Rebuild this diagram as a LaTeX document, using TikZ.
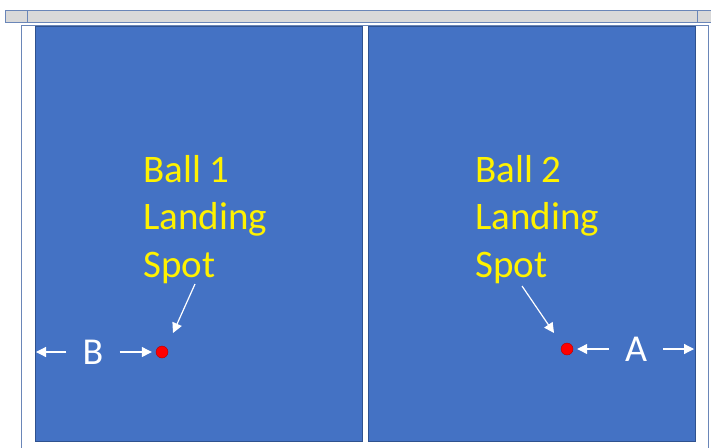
\documentclass[tikz,border=0pt]{standalone}
\usepackage{fontspec}
\setmainfont{Carlito}
\usetikzlibrary{arrows.meta}
\definecolor{panelblue}{HTML}{4472C4}
\definecolor{paneledge}{HTML}{2F528F}
\definecolor{bargray}{HTML}{D9D9D9}
\definecolor{baredge}{HTML}{6A86B8}

\begin{document}
\begin{tikzpicture}[x=1pt, y=-1pt,
        court/.style={draw=paneledge, fill=panelblue, line width=0.8pt},
        ball/.style={circle, fill=red, draw=red!70!black, line width=0.4pt,
        minimum size=12pt, inner sep=0pt},
        spotlabel/.style={anchor=base west, align=left, text=yellow,
        font=\fontsize{39}{47.5}\selectfont, inner sep=0pt},
        distlabel/.style={text=white, font=\fontsize{38}{44}\selectfont,
        inner ysep=0pt, inner xsep=16pt},
        pointer/.style={-{Triangle[width=10pt,length=10pt]}, white, line width=1.2pt},
    ]
    \useasboundingbox (0,0) rectangle (711,447);

    %% Top rail
    \draw[draw=baredge, fill=bargray, line width=0.8pt] (5,10) rectangle (714,22);
    \draw[baredge, line width=0.8pt] (27,10) -- (27,22) (697,10) -- (697,22);

    %% Outer frame
    \draw[baredge, line width=0.8pt] (21,449) -- (21,25) -- (708,25) -- (708,449);

    %% Courts
    \draw[court] (35,26) rectangle (362,441);
    \draw[court] (368,26) rectangle (695,441);

    %% Ball 1 (base anchor sits on the last line)
    \node[spotlabel] (spot1) at (143,277) {Ball 1\\Landing\\Spot};
    \node[ball] (ball1) at (162,352) {};
    \coordinate (from1) at (195,284);
    \coordinate (tip1) at (173,333);
    \draw[pointer] (from1) -- (tip1);

    %% Ball 2
    \node[spotlabel] (spot2) at (475,277) {Ball 2\\Landing\\Spot};
    \node[ball] (ball2) at (567,349) {};
    \coordinate (from2) at (522,286);
    \coordinate (tip2) at (554,333);
    \draw[pointer] (from2) -- (tip2);

    %% Distance B
    \node[distlabel] (distB) at (93,352) {B};
    \coordinate (edgeL) at (36,352);
    \draw[pointer] (distB.west) -- (edgeL);
    \draw[pointer, shorten >=4pt] (distB.east) -- (distB.east -| ball1.west);

    %% Distance A
    \node[distlabel] (distA) at (636,349) {A};
    \coordinate (edgeR) at (694,349);
    \draw[pointer, shorten >=4pt] (distA.west) -- (distA.west -| ball2.east);
    \draw[pointer] (distA.east) -- (edgeR);

\end{tikzpicture}
\end{document}
